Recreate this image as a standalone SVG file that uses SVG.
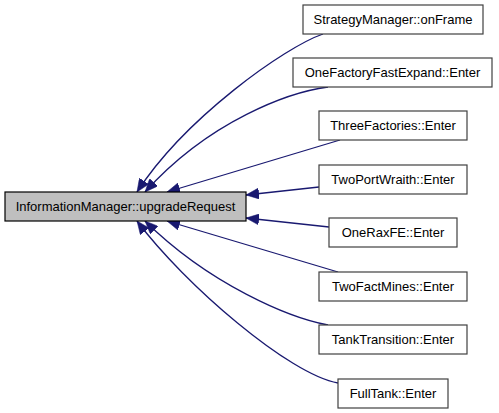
<svg xmlns="http://www.w3.org/2000/svg" width="499" height="413" viewBox="0 0 499 413">
<style>
.node rect{fill:#ffffff;stroke:#404040;stroke-width:1.2}
.node.main rect{fill:#bfbfbf;stroke:#000000}
.node text{font-family:"Liberation Sans",Arial,sans-serif;font-size:13px;fill:#000000;text-anchor:middle}
.edges path{fill:none;stroke:#191970;stroke-width:1.3;marker-end:url(#arrow)}
</style>
<defs>
<marker id="arrow" viewBox="0 0 13 11" refX="13" refY="5.5" markerWidth="13" markerHeight="11" markerUnits="userSpaceOnUse" orient="auto">
<path d="M0,0 L13,5.5 L0,11 z" fill="#191970" stroke="#191970" stroke-width="0.5"/>
</marker>
</defs>
<rect width="499" height="413" fill="#ffffff"/>
<g id="edges" class="edges">
<path d="M323,34 C285,47 185,118 137,192"/>
<path d="M328,87 C290,92 210,120 145,192"/>
<path d="M340,140 L167,192"/>
<path d="M319,187 L246,195"/>
<path d="M329,227 L246,218"/>
<path d="M338,272 L167,221"/>
<path d="M328,325 C290,318 210,285 145,221"/>
<path d="M338,383 C290,375 185,285 137,221"/>
</g>
<g id="node-main" class="node main">
<rect x="5" y="192" width="241" height="29"/>
<text x="125.5" y="211">InformationManager::upgradeRequest</text>
</g>
<g id="node-strategymanager" class="node">
<rect x="303" y="5" width="180" height="29"/>
<text x="393" y="24">StrategyManager::onFrame</text>
</g>
<g id="node-onefactoryfastexpand" class="node">
<rect x="293" y="58" width="199" height="29"/>
<text x="392.5" y="77">OneFactoryFastExpand::Enter</text>
</g>
<g id="node-threefactories" class="node">
<rect x="319" y="111" width="148" height="29"/>
<text x="393" y="130">ThreeFactories::Enter</text>
</g>
<g id="node-twoportwraith" class="node">
<rect x="319" y="165" width="148" height="29"/>
<text x="393" y="184">TwoPortWraith::Enter</text>
</g>
<g id="node-oneraxfe" class="node">
<rect x="329" y="218" width="128" height="29"/>
<text x="393" y="237">OneRaxFE::Enter</text>
</g>
<g id="node-twofactmines" class="node">
<rect x="319" y="272" width="148" height="29"/>
<text x="393" y="291">TwoFactMines::Enter</text>
</g>
<g id="node-tanktransition" class="node">
<rect x="319" y="325" width="148" height="29"/>
<text x="393" y="344">TankTransition::Enter</text>
</g>
<g id="node-fulltank" class="node">
<rect x="338" y="379" width="110" height="29"/>
<text x="393" y="398">FullTank::Enter</text>
</g>
</svg>
